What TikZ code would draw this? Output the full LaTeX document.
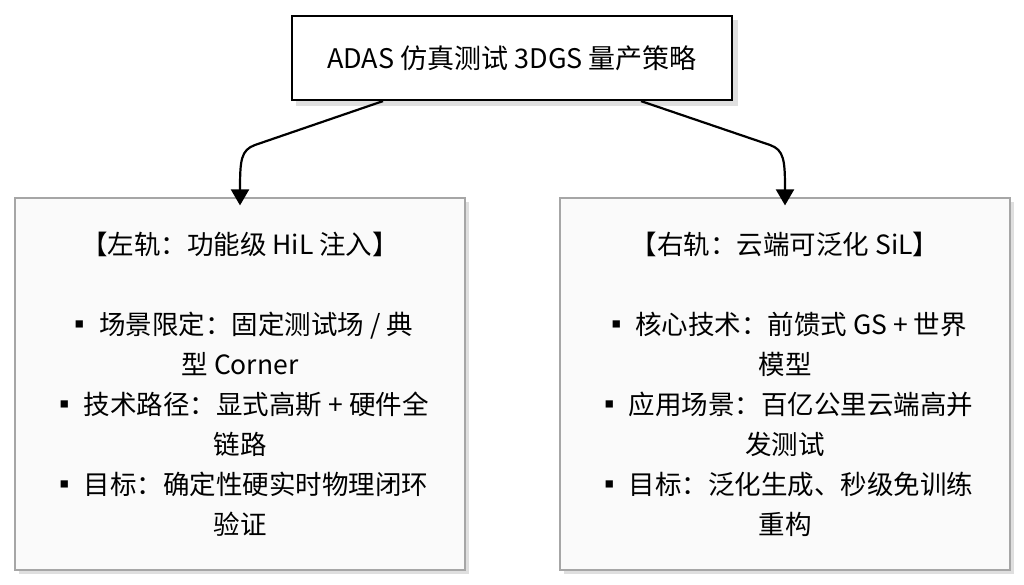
\documentclass[tikz,border=0pt]{standalone}
\usepackage{fontspec}
\setmainfont{Noto Sans CJK SC}
\usetikzlibrary{arrows.meta}
\begin{document}
\begin{tikzpicture}[x=1pt,y=-1pt,
  top/.style={draw=black,line width=2.2pt,fill=white,minimum width=440pt,minimum height=84pt,font=\fontsize{27}{30}\selectfont},
  rail/.style={draw=gray!70,line width=1.2pt,fill=gray!4,minimum width=450pt,minimum height=372pt,align=center,font=\fontsize{26.5}{40}\selectfont},
  shadow/.style={fill=gray!25,draw=none},
  arr/.style={line width=2.2pt,-{Triangle[length=16pt,width=18pt]}}]
\useasboundingbox (0,0) rectangle (1024,585);
\fill[shadow] (296,20) rectangle (738,106);
\node[top] (t) at (512,58) {ADAS 仿真测试 3DGS 量产策略};
\fill[shadow] (19,202) rectangle (469,574);
\fill[shadow] (564,202) rectangle (1014,574);
\node[rail] (l) at (240,384) {【左轨：功能级 HiL 注入】\\[40pt]▪ 场景限定：固定测试场 / 典\\型 Corner\\▪ 技术路径：显式高斯 + 硬件全\\链路\\▪ 目标：确定性硬实时物理闭环\\验证};
\node[rail] (r) at (785,384) {【右轨：云端可泛化 SiL】\\[40pt]▪ 核心技术：前馈式 GS + 世界\\模型\\▪ 应用场景：百亿公里云端高并\\发测试\\▪ 目标：泛化生成、秒级免训练\\重构};
\coordinate (lb) at (255,145);
\coordinate (rb) at (770,145);
\draw[arr] ([xshift=-129pt]t.south) -- (lb) .. controls (241,150) and (240,160) .. ([yshift=-8pt]l.north);
\draw[arr] ([xshift=129pt]t.south) -- (rb) .. controls (784,150) and (785,160) .. ([yshift=-8pt]r.north);
\end{tikzpicture}
\end{document}
